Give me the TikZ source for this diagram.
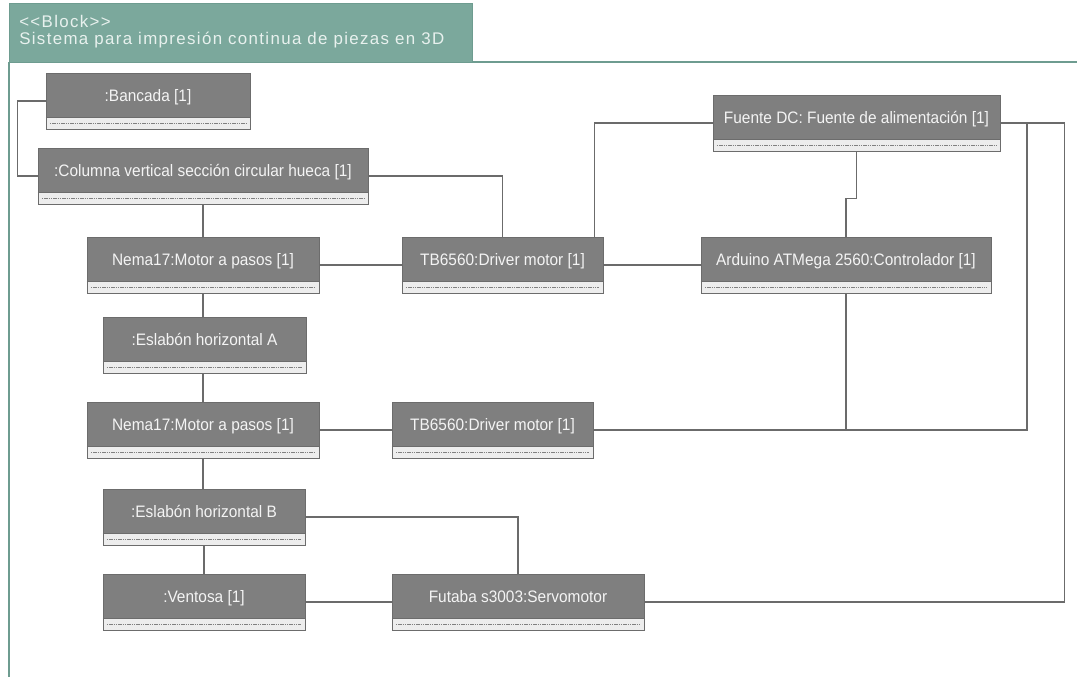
\documentclass[tikz,border=0pt]{standalone}
\usepackage{fontspec}
\setmainfont{Liberation Sans}
\newfontfamily\hdrfont[LetterSpace=8,Ligatures=TeXOff]{Liberation Sans}
\newfontfamily\blkfont[FakeStretch=0.93]{Liberation Sans}
\definecolor{hdrfill}{HTML}{7BA89C}
\definecolor{hdredge}{HTML}{6E9C90}
\definecolor{hdrtext}{HTML}{E8F1EE}
\definecolor{blkgray}{HTML}{7F7F7F}
\definecolor{blkedge}{HTML}{6C6C6C}
\definecolor{blktext}{HTML}{F4F4F4}
\definecolor{stripfill}{HTML}{EDEDED}
\definecolor{wirec}{HTML}{6B6B6B}
\begin{document}
\begin{tikzpicture}[x=0.025cm,y=-0.025cm,
 blockbox/.style={draw=blkedge, fill=blkgray, text=blktext, font=\blkfont\fontsize{11.8}{13}\selectfont,
  inner sep=0pt, minimum width=#1, text height=0.7cm, text depth=0.7cm,
  path picture={
   \fill[stripfill] (path picture bounding box.south west) rectangle ([yshift=0.3cm]path picture bounding box.south east);
   \draw[blkedge] ([yshift=0.3cm]path picture bounding box.south west) -- ([yshift=0.3cm]path picture bounding box.south east);
   \draw[gray, dashed, dash pattern=on 1pt off 0.6pt, line width=0.3pt] ([xshift=0.1cm,yshift=0.15cm]path picture bounding box.south west) -- ([xshift=-0.1cm,yshift=0.15cm]path picture bounding box.south east);
  }},
 wire/.style={draw=wirec, line width=0.8pt},
 hdr/.style={text=hdrtext, font=\hdrfont\fontsize{12}{13}\selectfont, inner sep=0pt, anchor=base west}]
\useasboundingbox (0,0) rectangle (1077,677);
\fill[white] (0,0) rectangle (1077,677);

\draw[hdredge, fill=hdrfill] (9,3) rectangle (472,62);
\draw[hdredge, line width=0.8pt] (472,62) -- (1077,62);
\draw[hdredge, line width=0.8pt] (9,62) -- (9,677);
\node[hdr] (stereo) at (19,27) {<<Block>>};
\node[hdr] (title) at (19,44) {Sistema para impresión continua de piezas en 3D};

\node[blockbox=5.1cm] (bancada) at (148,101) {:Bancada [1]};
\node[blockbox=8.25cm] (columna) at (203,176) {:Columna vertical sección circular hueca [1]};
\node[blockbox=5.8cm] (nemaA) at (203,265) {Nema17:Motor a pasos [1]};
\node[blockbox=5.025cm] (driverA) at (502.5,265) {TB6560:Driver motor [1]};
\node[blockbox=7.175cm] (fuente) at (856.5,123) {Fuente DC: Fuente de alimentación [1]};
\node[blockbox=7.25cm] (arduino) at (846,265) {Arduino ATMega 2560:Controlador [1]};
\node[blockbox=5.075cm] (eslabonA) at (204.5,345) {:Eslabón horizontal A};
\node[blockbox=5.8cm] (nemaB) at (203,430) {Nema17:Motor a pasos [1]};
\node[blockbox=5.025cm] (driverB) at (492.5,430) {TB6560:Driver motor [1]};
\node[blockbox=5.05cm] (eslabonB) at (204,517) {:Eslabón horizontal B};
\node[blockbox=5.05cm] (ventosa) at (204,602) {:Ventosa [1]};
\node[blockbox=6.3cm] (futaba) at (518,602) {Futaba s3003:Servomotor};
\coordinate (tap) at (1027,123);

\draw[wire] (bancada.west) -- ++(-28,0) |- (columna.west);
\draw[wire] (columna.east) -| (driverA.north);
\draw[wire] (columna.south) -- (nemaA.north);
\draw[wire] (nemaA.east) -- (driverA.west);
\draw[wire] ([xshift=-0.225cm]driverA.north east) |- (fuente.west);
\draw[wire] (driverA.east) -- (arduino.west);
\draw[wire] (fuente.south) -- ++(0,47) -| (arduino.north);
\draw[wire] (fuente.east) -- ++(64,0) |- (futaba.east);
\draw[wire] (tap) |- (driverB.east);
\draw[wire] (arduino.south) -- (arduino.south |- driverB.east);
\draw[wire] (nemaA.south) -- (nemaA.south |- eslabonA.north);
\draw[wire] (nemaB.north |- eslabonA.south) -- (nemaB.north);
\draw[wire] (nemaB.east) -- (driverB.west);
\draw[wire] (nemaB.south) -- (nemaB.south |- eslabonB.north);
\draw[wire] (eslabonB.south) -- (ventosa.north);
\draw[wire] (eslabonB.east) -| (futaba.north);
\draw[wire] (ventosa.east) -- (futaba.west);
\end{tikzpicture}
\end{document}
